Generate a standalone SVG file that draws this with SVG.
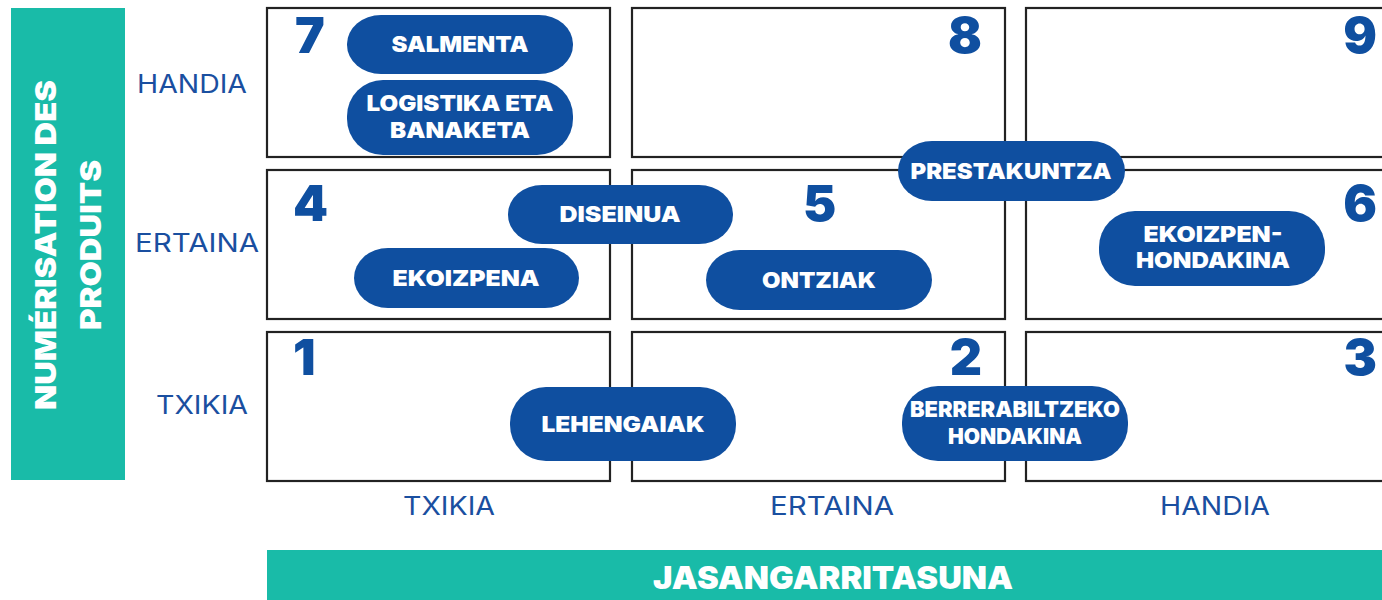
<svg xmlns="http://www.w3.org/2000/svg" width="1382" height="600" viewBox="0 0 1382 600">
<style>
.bar{fill:#19bba8}
.cell{fill:#fff;stroke:#222;stroke-width:2.2}
.pill{fill:#0f4fa0}
.pt{font-family:Inter,"Liberation Sans",sans-serif;font-weight:900;font-size:22px;fill:#fff;text-anchor:middle}
.num{font-family:Inter,"Liberation Sans",sans-serif;font-weight:900;font-size:50px;fill:#0f4fa0}
.lab{font-family:Inter,"Liberation Sans",sans-serif;font-weight:400;font-size:25px;fill:#1a4fa0;text-anchor:middle}
.bt{font-family:Inter,"Liberation Sans",sans-serif;font-weight:900;fill:#fff;text-anchor:middle}
</style>
<rect width="1382" height="600" fill="#fff"/>
<g id="axis-y">
<rect class="bar" x="11" y="8" width="114" height="472"/>
<text class="bt" font-size="29" transform="translate(56 245) rotate(-90)" textLength="330" lengthAdjust="spacingAndGlyphs">NUMÉRISATION DES</text>
<text class="bt" font-size="29" transform="translate(101 245) rotate(-90)" textLength="170" lengthAdjust="spacingAndGlyphs">PRODUITS</text>
</g>
<g id="axis-x">
<rect class="bar" x="267" y="550" width="1120" height="50"/>
<text class="bt" font-size="31" x="833" y="589" textLength="360" lengthAdjust="spacingAndGlyphs">JASANGARRITASUNA</text>
</g>
<g id="row-labels">
<text class="lab" x="192" y="93" textLength="110" lengthAdjust="spacingAndGlyphs">HANDIA</text>
<text class="lab" x="197" y="252" textLength="124" lengthAdjust="spacingAndGlyphs">ERTAINA</text>
<text class="lab" x="202" y="414" textLength="92" lengthAdjust="spacingAndGlyphs">TXIKIA</text>
</g>
<g id="col-labels">
<text class="lab" x="449" y="515" textLength="92" lengthAdjust="spacingAndGlyphs">TXIKIA</text>
<text class="lab" x="832" y="515" textLength="124" lengthAdjust="spacingAndGlyphs">ERTAINA</text>
<text class="lab" x="1215" y="515" textLength="110" lengthAdjust="spacingAndGlyphs">HANDIA</text>
</g>
<g id="cell-7"><rect class="cell" x="267" y="8" width="343" height="149"/><text class="num" x="295" y="53">7</text></g>
<g id="cell-8"><rect class="cell" x="632" y="8" width="373" height="149"/><text class="num" x="982" y="53" text-anchor="end">8</text></g>
<g id="cell-9"><rect class="cell" x="1026" y="8" width="370" height="149"/><text class="num" x="1377" y="53" text-anchor="end">9</text></g>
<g id="cell-4"><rect class="cell" x="267" y="170" width="343" height="149"/><text class="num" x="293" y="221">4</text></g>
<g id="cell-5"><rect class="cell" x="632" y="170" width="373" height="149"/><text class="num" x="803" y="221">5</text></g>
<g id="cell-6"><rect class="cell" x="1026" y="170" width="370" height="149"/><text class="num" x="1377" y="221" text-anchor="end">6</text></g>
<g id="cell-1"><rect class="cell" x="267" y="332" width="343" height="149"/><text class="num" x="293" y="375">1</text></g>
<g id="cell-2"><rect class="cell" x="632" y="332" width="373" height="149"/><text class="num" x="982" y="375" text-anchor="end">2</text></g>
<g id="cell-3"><rect class="cell" x="1026" y="332" width="370" height="149"/><text class="num" x="1377" y="375" text-anchor="end">3</text></g>
<g id="salmenta"><rect class="pill" x="347" y="15" width="226" height="59" rx="34" ry="29"/><text class="pt" x="460" y="52" textLength="137" lengthAdjust="spacingAndGlyphs">SALMENTA</text></g>
<g id="logistika"><rect class="pill" x="347" y="80" width="226" height="75" rx="36" ry="36"/><text class="pt" x="460" y="111" textLength="187" lengthAdjust="spacingAndGlyphs">LOGISTIKA ETA</text><text class="pt" x="460" y="138" textLength="140" lengthAdjust="spacingAndGlyphs">BANAKETA</text></g>
<g id="diseinua"><rect class="pill" x="508" y="185" width="225" height="59" rx="34" ry="29"/><text class="pt" x="620" y="222" textLength="121" lengthAdjust="spacingAndGlyphs">DISEINUA</text></g>
<g id="ekoizpena"><rect class="pill" x="354" y="248" width="225" height="60" rx="34" ry="30"/><text class="pt" x="466" y="286" textLength="147" lengthAdjust="spacingAndGlyphs">EKOIZPENA</text></g>
<g id="ontziak"><rect class="pill" x="706" y="250" width="226" height="60" rx="34" ry="30"/><text class="pt" x="819" y="288" textLength="114" lengthAdjust="spacingAndGlyphs">ONTZIAK</text></g>
<g id="prestakuntza"><rect class="pill" x="898" y="141" width="227" height="60" rx="34" ry="30"/><text class="pt" x="1011" y="179" textLength="201" lengthAdjust="spacingAndGlyphs">PRESTAKUNTZA</text></g>
<g id="ekoizpen-hondakina"><rect class="pill" x="1099" y="211" width="226" height="75" rx="36" ry="36"/><text class="pt" x="1213" y="242" textLength="139" lengthAdjust="spacingAndGlyphs">EKOIZPEN-</text><text class="pt" x="1213" y="268" textLength="154" lengthAdjust="spacingAndGlyphs">HONDAKINA</text></g>
<g id="lehengaiak"><rect class="pill" x="510" y="387" width="226" height="74" rx="36" ry="36"/><text class="pt" x="623" y="432" textLength="163" lengthAdjust="spacingAndGlyphs">LEHENGAIAK</text></g>
<g id="berrerabiltzeko"><rect class="pill" x="902" y="386" width="226" height="75" rx="36" ry="36"/><text class="pt" x="1015" y="417" textLength="210" lengthAdjust="spacingAndGlyphs">BERRERABILTZEKO</text><text class="pt" x="1015" y="444" textLength="134" lengthAdjust="spacingAndGlyphs">HONDAKINA</text></g>
</svg>
